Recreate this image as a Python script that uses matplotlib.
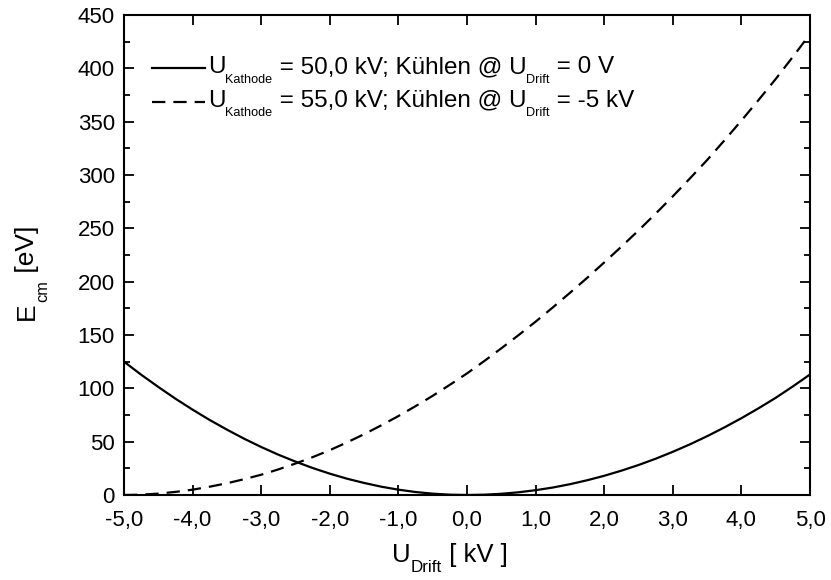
import matplotlib
matplotlib.use("Agg")
import matplotlib.pyplot as plt
import matplotlib.transforms as mtrans
from matplotlib.ticker import MultipleLocator, FixedLocator, FuncFormatter

plt.rcParams['font.family'] = ['Liberation Sans', 'DejaVu Sans']

# U_Drift [kV]
u_drift = [-5.0, -4.75, -4.5, -4.25, -4.0, -3.75, -3.5, -3.25, -3.0, -2.75,
           -2.5, -2.25, -2.0, -1.75, -1.5, -1.25, -1.0, -0.75, -0.5, -0.25,
           0.0, 0.25, 0.5, 0.75, 1.0, 1.25, 1.5, 1.75, 2.0, 2.25,
           2.5, 2.75, 3.0, 3.25, 3.5, 3.75, 4.0, 4.25, 4.5, 4.75, 5.0]
# E_cm [eV], U_Kathode = 50 kV, cooling at U_Drift = 0 V
e_cm_50 = [125.0, 112.8, 101.3, 90.3, 80.0, 70.3, 61.3, 52.8, 45.0, 37.8,
           31.3, 25.3, 20.0, 15.3, 11.3, 7.8, 5.0, 2.8, 1.25, 0.3,
           0.0, 0.28, 1.13, 2.53, 4.5, 7.0, 10.1, 13.8, 18.0, 22.8,
           28.1, 34.0, 40.5, 47.5, 55.1, 63.3, 72.0, 81.3, 91.1, 101.8, 113.0]
# E_cm [eV], U_Kathode = 55 kV, cooling at U_Drift = -5 kV
e_cm_55 = [0.0, 0.3, 1.3, 2.9, 5.0, 7.8, 11.0, 14.8, 19.0, 24.0,
           29.5, 35.5, 42.0, 49.3, 57.0, 65.3, 74.0, 83.3, 93.0, 103.3,
           114.0, 125.5, 137.5, 149.8, 162.5, 175.8, 189.5, 203.5, 218.0, 232.8,
           248.0, 263.8, 280.0, 296.8, 314.0, 332.3, 351.0, 370.3, 390.0, 410.8, 432.0]

# legend texts: (text, is_subscript)
legend_50 = [("U", False), ("Kathode", True), (" = 50,0 kV; Kühlen @ U", False),
             ("Drift", True), (" = 0 V", False)]
legend_55 = [("U", False), ("Kathode", True), (" = 55,0 kV; Kühlen @ U", False),
             ("Drift", True), (" = -5 kV", False)]
xlabel_parts = [("U", False), ("Drift", True), (" [ kV ]", False)]
ylabel_parts = [("E", False), ("cm", True), (" [eV]", False)]

x_ticks = [-5, -4, -3, -2, -1, 0, 1, 2, 3, 4, 5]
y_ticks = [0, 50, 100, 150, 200, 250, 300, 350, 400, 450]

W, H = 831, 580
fig = plt.figure(figsize=(W / 100, H / 100), dpi=100)
ax = fig.add_axes([124 / W, 1 - 495 / H, (810 - 124) / W, (495 - 15) / H])

l1, = ax.plot(u_drift, e_cm_50, color='black', lw=1.6)
l2, = ax.plot(u_drift, e_cm_55, color='black', lw=1.6, dashes=(6, 3.6))

ax.set_xlim(-5, 5)
ax.set_ylim(0, 450)
ax.xaxis.set_major_locator(FixedLocator(x_ticks))
ax.yaxis.set_major_locator(FixedLocator(y_ticks))
ax.yaxis.set_minor_locator(MultipleLocator(25))
ax.xaxis.set_major_formatter(FuncFormatter(lambda v, p: f"{v:.1f}".replace('.', ',')))
ax.yaxis.set_major_formatter(FuncFormatter(lambda v, p: f"{v:.0f}"))

ax.tick_params(which='both', direction='in', top=True, right=True, width=1.3,
               labelsize=16)
ax.tick_params(which='major', length=7)
ax.tick_params(which='minor', length=4.5)
ax.tick_params(axis='x', which='major', pad=10.5)
ax.tick_params(axis='y', which='major', pad=6.5)
for s in ax.spines.values():
    s.set_linewidth(1.5)

ID = mtrans.IdentityTransform()
fig.canvas.draw()
R = fig.canvas.get_renderer()


def adv(s, fs):
    t1 = fig.text(0, 0, '|' + s + '|', fontsize=fs, transform=ID)
    t2 = fig.text(0, 0, '||', fontsize=fs, transform=ID)
    w = t1.get_window_extent(R).width - t2.get_window_extent(R).width
    t1.remove()
    t2.remove()
    return w


def rich(x, y, parts, size, sub_scale, drop, rotation=0):
    px = size * fig.dpi / 72
    for s, sub in parts:
        fs = size * sub_scale if sub else size
        d = drop * px if sub else 0
        if rotation == 0:
            fig.text(x, y - d, s, fontsize=fs, transform=ID,
                     ha='left', va='baseline')
            x += adv(s, fs)
        else:
            fig.text(x + d, y, s, fontsize=fs, transform=ID, ha='left',
                     va='baseline', rotation=90, rotation_mode='anchor')
            y += adv(s, fs)


# axis labels (display pixel coords: y up from bottom)
rich(392, H - 562, xlabel_parts, 18.5, 0.66, 0.4)
rich(34, H - 320, ylabel_parts, 19, 0.62, 0.5, rotation=90)

# legend keys, positioned so the key lines sit at the reference place
leg_fs = 15
lsp = 0.5
target_x0, target_y0, target_y1 = 151.7, H - 68.3, H - 101.7
fpx = leg_fs * fig.dpi / 72
anchor = [0.03, 0.96]
for _ in range(3):
    leg = ax.legend([l1, l2], ['', ''], loc='upper left', frameon=False,
                    fontsize=leg_fs, handlelength=53.3 / fpx, handletextpad=0,
                    labelspacing=lsp, borderaxespad=0, borderpad=0,
                    bbox_to_anchor=tuple(anchor))
    fig.canvas.draw()
    hb = [h.get_window_extent(R) for h in leg.legend_handles]
    y0 = (hb[0].y0 + hb[0].y1) / 2
    y1 = (hb[1].y0 + hb[1].y1) / 2
    dy = y0 - y1
    lsp += ((target_y0 - target_y1) - dy) / fpx
    axb = ax.get_window_extent(R)
    anchor[0] += (target_x0 - hb[0].x0) / axb.width
    anchor[1] += (target_y0 - y0) / axb.height

fig.canvas.draw()
hb = [h.get_window_extent(R) for h in leg.legend_handles]
for h, parts in zip(hb, [legend_50, legend_55]):
    yc = (h.y0 + h.y1) / 2
    rich(h.x1 + 3, yc - 5, parts, 17.5, 0.52, 0.4)

fig.savefig('out.png', dpi=100)
